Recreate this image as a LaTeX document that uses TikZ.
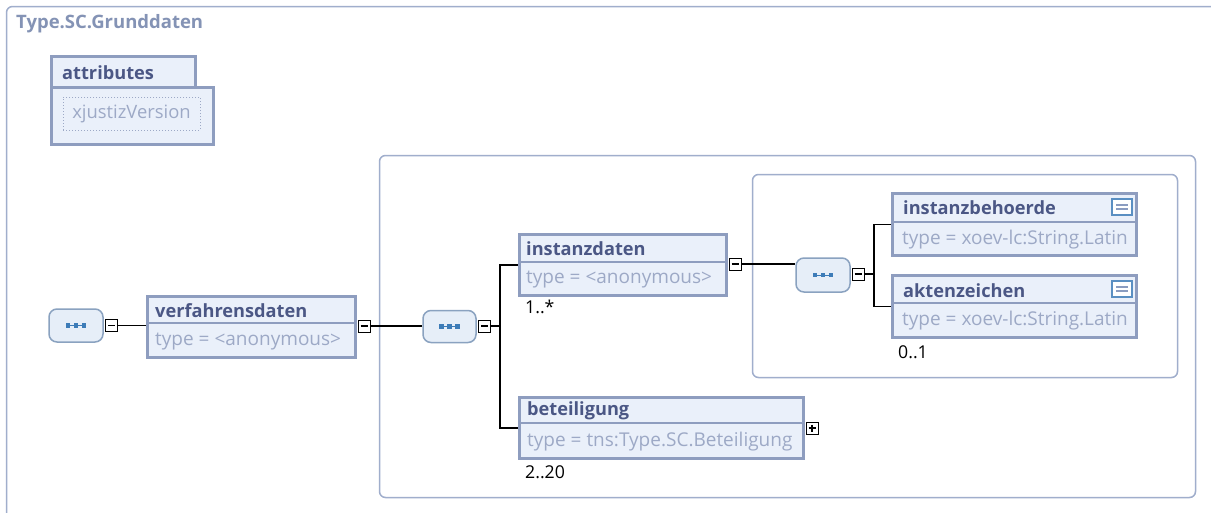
\documentclass[tikz,border=0pt]{standalone}
\usepackage{fontspec}
\setmainfont{Open Sans}
\usetikzlibrary{calc}
\definecolor{bord}{HTML}{8E9DBF}
\definecolor{boxfill}{HTML}{EAF0FA}
\definecolor{nametxt}{HTML}{4B5785}
\definecolor{typetxt}{HTML}{9DA9C6}
\definecolor{framec}{HTML}{A0AECC}
\definecolor{titlec}{HTML}{8493B5}
\definecolor{seqfill}{HTML}{E6EEF8}
\definecolor{seqbord}{HTML}{8AA2C0}
\definecolor{seqdot}{HTML}{3D7CB8}
\definecolor{iconb}{HTML}{5A8FC2}
\definecolor{iconl}{HTML}{8A9CC0}
\begin{document}
\begin{tikzpicture}[x=1pt,y=-1pt,
  frame/.style={draw=framec, line width=1.5pt},
  cont/.style={draw=framec, line width=1.5pt, rounded corners=6pt, inner sep=0pt},
  elem/.style={draw=bord, fill=boxfill, line width=3pt, inner sep=0pt},
  divider/.style={draw=bord, line width=1.5pt},
  nm/.style={font=\fontsize{18.2}{21}\selectfont\bfseries, text=nametxt, inner sep=0pt, anchor=west},
  tp/.style={font=\fontsize{19}{22}\selectfont, text=typetxt, inner sep=0pt, anchor=west},
  mult/.style={font=\fontsize{17.7}{20}\selectfont, text=black, inner sep=0pt, anchor=west},
  conn/.style={draw=black, line width=1.2pt},
  seq/.style={draw=seqbord, fill=seqfill, line width=1.5pt, rounded corners=8pt, inner sep=0pt,
    path picture={
      \draw[seqdot, line width=0.8pt, sharp corners] ($(path picture bounding box.center)+(-8,0)$) -- ++(16,0);
      \foreach \dx in {-8,0,8}{\fill[seqdot, sharp corners] ($(path picture bounding box.center)+(\dx,0)+(-2.2,-2.2)$) rectangle ++(4.4,4.4);}
    }},
  tog/.style={draw=black, fill=white, line width=1pt, minimum size=12pt, inner sep=0pt,
    path picture={\draw[line width=1.2pt] ($(path picture bounding box.center)+(-3.5,0)$) -- ++(7,0);}},
  togplus/.style={draw=black, fill=white, line width=1pt, minimum size=12pt, inner sep=0pt,
    path picture={\draw[line width=1.2pt] ($(path picture bounding box.center)+(-3.5,0)$) -- ++(7,0);
                  \draw[line width=1.2pt] ($(path picture bounding box.center)+(0,-3.5)$) -- ++(0,7);}},
  eicon/.style={draw=iconb, fill=white, line width=1.5pt, minimum width=20pt, minimum height=16pt, inner sep=0pt,
    path picture={
      \draw[iconl, line width=1.3pt] ($(path picture bounding box.center)+(-6,-2)$) -- ++(12,0);
      \draw[iconl, line width=1.3pt] ($(path picture bounding box.center)+(-6,2)$) -- ++(12,0);
    }}
]
\useasboundingbox (0,0) rectangle (1211,512);
\fill[white] (0,0) rectangle (1211,512);

% outer frame
\draw[frame, rounded corners=6pt] (6.5,560) |- (1260,6.5);
\node[font=\fontsize{18.5}{21}\selectfont\bfseries, text=titlec, inner sep=0pt, anchor=west] (title) at (16,24) {Type.SC.Grunddaten};

% attributes
\node[elem, minimum width=162pt, minimum height=57.5pt] (attrbody) at (132.5,115.75) {};
\node[elem, minimum width=144pt, minimum height=30.5pt] (attrhead) at (123.5,71.75) {};
\node[nm] (attrname) at (62,73) {attributes};
\node[draw=typetxt, dotted, line width=1pt, minimum width=137pt, minimum height=33pt, inner sep=0pt,
      font=\fontsize{18.4}{21}\selectfont, text=typetxt] (xjv) at (131.5,113.5) {xjustizVersion};

% containers
\node[cont, minimum width=816pt, minimum height=342pt] (c2) at (787.5,326.5) {};
\node[cont, minimum width=425pt, minimum height=203pt] (c3) at (965,276) {};

% sequence 1 + verfahrensdaten
\node[seq, minimum width=54pt, minimum height=33pt] (s1) at (76,325.5) {};
\node[tog] (m1) at (111.5,325.5) {};
\node[elem, minimum width=208pt, minimum height=61pt] (vd) at (251.5,327) {};
\draw[divider] (147.5,323) -- (355.5,323);
\node[nm] (vdn) at (155,311) {verfahrensdaten};
\node[tp] (vdt) at (155,342) {type = <anonymous>};
\node[tog] (m2) at (364,326) {};

% sequence 2
\node[seq, minimum width=53pt, minimum height=32pt] (s2) at (449.5,326.5) {};
\node[tog] (m3) at (484.5,326) {};
\coordinate (b2) at (500,326);

% instanzdaten
\node[elem, minimum width=207pt, minimum height=61pt] (id) at (623,265) {};
\draw[divider] (519.5,262) -- (726.5,262);
\node[nm] (idn) at (526,249) {instanzdaten};
\node[tp] (idt) at (526,280) {type = <anonymous>};
\node[tog] (m4) at (735,264) {};
\node[mult] (idm) at (525,307) {1..*};

% beteiligung
\node[elem, minimum width=284pt, minimum height=61pt] (bt) at (661.5,428) {};
\draw[divider] (519.5,423) -- (803.5,423);
\node[nm] (btn) at (527,411) {beteiligung};
\node[tp] (btt) at (527,442) {type = tns:Type.SC.Beteiligung};
\node[togplus] (p1) at (812,428) {};
\node[mult] (btm) at (525,472) {2..20};

% sequence 3
\node[seq, minimum width=54pt, minimum height=34pt] (s3) at (823,275) {};
\node[tog] (m5) at (858,274) {};
\coordinate (b3) at (874,274);

% instanzbehoerde
\node[elem, minimum width=244pt, minimum height=62pt] (ib) at (1014.5,224.5) {};
\draw[divider] (892.5,222) -- (1136.5,222);
\node[nm] (ibn) at (903,208) {instanzbehoerde};
\node[tp] (ibt) at (902,240) {type = xoev-lc:String.Latin};
\node[eicon] (ibi) at (1122,207) {};

% aktenzeichen
\node[elem, minimum width=244pt, minimum height=62pt] (az) at (1014.5,306.5) {};
\draw[divider] (892.5,303) -- (1136.5,303);
\node[nm] (azn) at (903,291) {aktenzeichen};
\node[tp] (azt) at (902,321) {type = xoev-lc:String.Latin};
\node[eicon] (azi) at (1122,289) {};
\node[mult] (azm) at (898,352) {0..1};

% connectors
\draw[conn] (m1.east) -- (m1.east -| vd.west);
\draw[conn] (m2.east) -- (m2.east -| s2.west);
\draw[conn] (m3.east) -- (b2);
\draw[conn] (b2) |- (id.west);
\draw[conn] (b2) |- (bt.west);
\draw[conn] (m4.east) -- (m4.east -| s3.west);
\draw[conn] (m5.east) -- (b3);
\draw[conn] (b3) |- (ib.west);
\draw[conn] (b3) |- (az.west);
\end{tikzpicture}
\end{document}
